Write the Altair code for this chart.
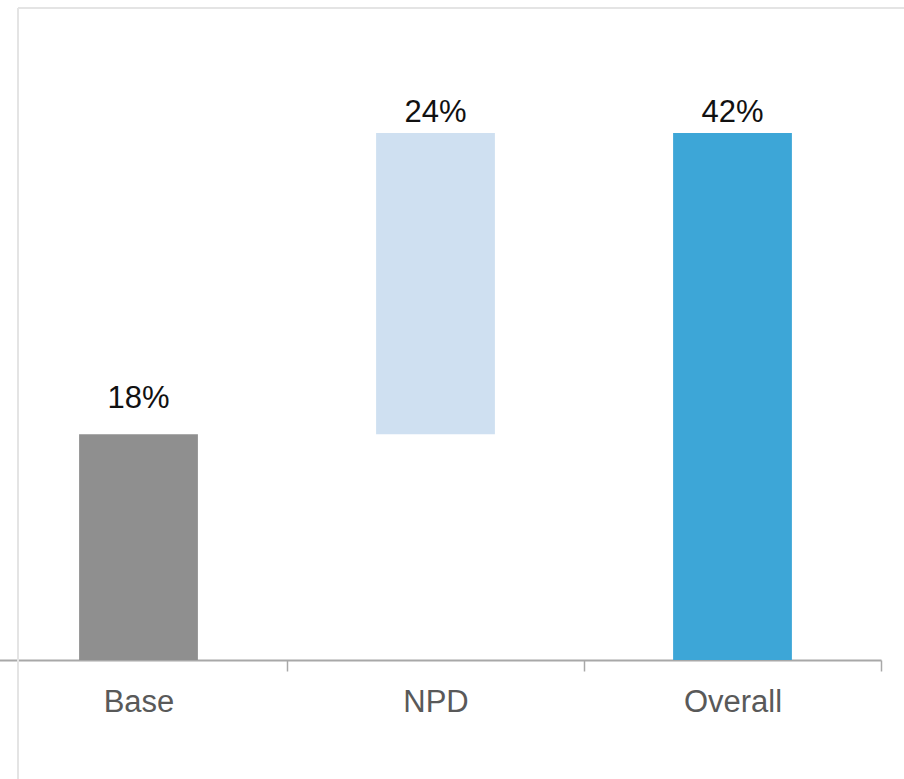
import altair as alt
import pandas as pd

# Waterfall steps: contribution of each stage, the last one is the total
categories = ["Base", "NPD", "Overall"]
deltas = [18, 24, 42]
is_total = [False, False, True]
bar_colors = ["#8f8f8f", "#cfe0f1", "#3da6d7"]

rows = []
running = 0
for cat, d, tot, col in zip(categories, deltas, is_total, bar_colors):
    if tot:
        start, end = 0, d
    else:
        start, end = running, running + d
        running = end
    rows.append({"category": cat, "start": start, "end": end,
                 "label": f"{d}%", "color": col})
df = pd.DataFrame(rows)

x_enc = alt.X(
    "category:N",
    sort=categories,
    scale=alt.Scale(range=[-10, 881], paddingInner=0.6, paddingOuter=0.3),
    axis=alt.Axis(
        title=None,
        labelAngle=0,
        # ticks sit between the categories, half a step right of each centre;
        # labels are shifted back so they stay centred under the bars
        tickOffset=148.5,
        labelOffset=-148.5,
        domainColor="#a8a8a8",
        domainWidth=2,
        tickColor="#a8a8a8",
        tickWidth=1.5,
        tickSize=11,
        labelFont="Liberation Sans",
        labelFontSize=31,
        labelColor="#595959",
        labelPadding=40,
        labelBaseline="alphabetic",
    ),
)
y_scale = alt.Scale(domain=[0, 52.6], nice=False, zero=True)

base = alt.Chart(df)

bars = base.mark_bar().encode(
    x=x_enc,
    y=alt.Y("start:Q", scale=y_scale, axis=None),
    y2="end:Q",
    color=alt.Color("color:N", scale=None),
)


def value_labels(dy, test):
    return base.transform_filter(test).mark_text(
        baseline="alphabetic",
        font="Liberation Sans",
        fontSize=31,
        color="#111111",
        dy=dy,
    ).encode(
        x=alt.X("category:N", sort=categories),
        y=alt.Y("end:Q", scale=y_scale, axis=None),
        text="label:N",
    )


labels_base = value_labels(-26, alt.datum.category == "Base")
labels_rest = value_labels(-11, alt.datum.category != "Base")

# light frame along the top and left edges
frame_top = alt.Chart(pd.DataFrame({"k": [0]})).mark_rule(
    color="#e4e4e4", strokeWidth=2
).encode(x=alt.value(18), x2=alt.value(904), y=alt.value(8))
frame_left = alt.Chart(pd.DataFrame({"k": [0]})).mark_rule(
    color="#e4e4e4", strokeWidth=2
).encode(x=alt.value(18), y=alt.value(8), y2=alt.value(779))

chart = (
    alt.layer(frame_top, frame_left, bars, labels_base, labels_rest)
    .properties(
        width=904,
        height=660,
        autosize="none",
        padding={"left": 0, "top": 0, "right": 0, "bottom": 119},
        background="white",
    )
    .configure_view(stroke=None)
)

chart.save("out.html", embed_options={"renderer": "svg", "actions": False})
